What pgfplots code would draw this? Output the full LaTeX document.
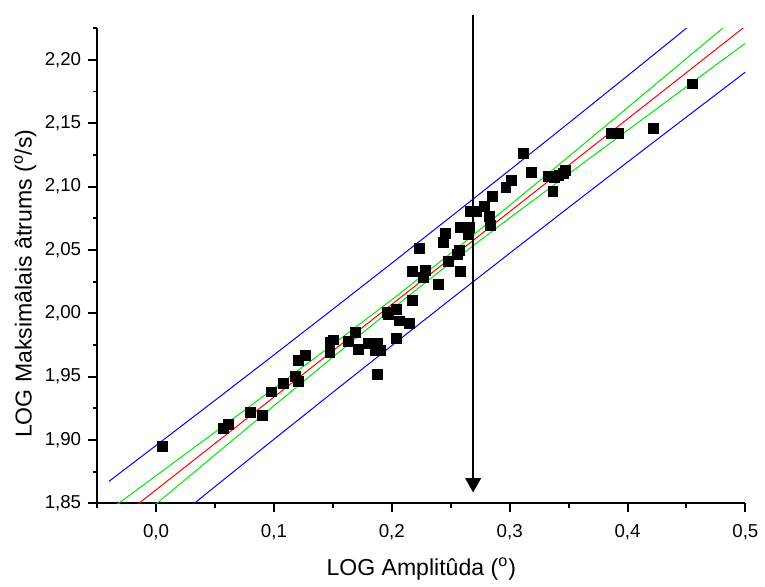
\documentclass[border=0pt]{standalone}
\usepackage{fontspec}
\setmainfont{Liberation Sans}
\usepackage{pgfplots}
\pgfplotsset{compat=1.18}
\usetikzlibrary{arrows.meta}
\definecolor{fitblue}{RGB}{0,0,255}
\definecolor{fitred}{RGB}{255,0,0}
\definecolor{fitgreen}{RGB}{0,230,0}
\begin{document}
\begin{tikzpicture}
\begin{axis}[
  scale only axis,
  width=326pt, height=239pt,
  xmin=-0.05, xmax=0.5, ymin=1.85, ymax=2.225,
  axis x line*=bottom, axis y line*=left,
  axis line style={-, line width=1pt},
  tick align=outside,
  major tick length=4.5pt, minor tick length=2.2pt,
  tick style={black, line width=1pt},
  xtick={0,0.1,0.2,0.3,0.4,0.5},
  xticklabels={{0,0},{0,1},{0,2},{0,3},{0,4},{0,5}},
  minor xtick={-0.05,0.05,0.15,0.25,0.35,0.45},
  ytick={1.85,1.90,1.95,2.00,2.05,2.10,2.15,2.20},
  yticklabels={{1,85},{1,90},{1,95},{2,00},{2,05},{2,10},{2,15},{2,20}},
  minor ytick={1.875,1.925,1.975,2.025,2.075,2.125,2.175,2.225},
  tick label style={font=\fontsize{9.4}{11}\selectfont},
  xticklabel style={yshift=-2.5pt},
  label style={font=\fontsize{11.6}{13}\selectfont},
  xlabel={LOG Amplitûda (\textsuperscript{o})},
  ylabel={LOG Maksimâlais âtrums (\textsuperscript{o}/s)},
  xlabel style={anchor=base, at={(axis description cs:0.5,-0.1513)}},
  ylabel style={anchor=base, at={(axis description cs:-0.1012,0.4623)}},
]
% prediction bands (blue)
\addplot[fitblue, line width=0.5pt] coordinates {
(-0.04,1.86738) (0,1.89572) (0.05,1.93132) (0.1,1.96715) (0.15,2.00323) (0.2,2.03955)
(0.25,2.07613) (0.3,2.11297) (0.35,2.15005) (0.4,2.18738) (0.45,2.22494) (0.5,2.2627)};
\addplot[fitblue, line width=0.5pt] coordinates {
(-0.04,1.7955) (0,1.82568) (0.05,1.86324) (0.1,1.90057) (0.15,1.93765) (0.2,1.97449)
(0.25,2.01107) (0.3,2.04739) (0.35,2.08347) (0.4,2.1193) (0.45,2.1549) (0.5,2.1903)};
% confidence bands (green)
\addplot[fitgreen, line width=0.5pt] coordinates {
(-0.04,1.84441) (0,1.87186) (0.05,1.90624) (0.1,1.94071) (0.15,1.97541) (0.2,2.01071)
(0.25,2.04729) (0.3,2.08515) (0.35,2.12361) (0.4,2.16230) (0.45,2.20108) (0.5,2.23992)};
\addplot[fitgreen, line width=0.5pt] coordinates {
(-0.04,1.81847) (0,1.84954) (0.05,1.88832) (0.1,1.92701) (0.15,1.96547) (0.2,2.00333)
(0.25,2.03991) (0.3,2.07521) (0.35,2.10991) (0.4,2.14438) (0.45,2.17876) (0.5,2.21308)};
% linear fit (red)
\addplot[fitred, line width=0.5pt] coordinates {(-0.04,1.83144) (0.5,2.2265)};
% data
\addplot[only marks, mark=square*, mark size=2.5pt, mark options={black, fill=black}] table {
x y
0.005 1.895
0.057 1.909
0.061 1.912
0.080 1.922
0.090 1.9195
0.0976 1.938
0.108 1.945
0.118 1.9505
0.121 1.946
0.121 1.963
0.127 1.967
0.1475 1.977
0.1505 1.979
0.1475 1.969
0.163 1.978
0.169 1.985
0.172 1.9715
0.180 1.976
0.188 1.976
0.1857 1.971
0.190 1.9707
0.188 1.952
0.196 2.001
0.197 1.999
0.204 2.003
0.2067 1.994
0.2152 1.992
0.204 1.980
0.2177 2.010
0.2177 2.033
0.2284 2.0335
0.2267 2.0285
0.2394 2.023
0.2234 2.051
0.2436 2.0558
0.2458 2.0634
0.2481 2.041
0.2557 2.0463
0.257 2.050
0.2584 2.0327
0.2584 2.0675
0.263 2.0675
0.266 2.0675
0.2646 2.062
0.267 2.0805
0.2715 2.0805
0.2785 2.0844
0.2827 2.0765
0.2833 2.0695
0.2855 2.0923
0.2968 2.0996
0.3015 2.1049
0.3117 2.1258
0.3184 2.1112
0.3325 2.108
0.3376 2.1073
0.3367 2.0962
0.3418 2.1088
0.3454 2.1106
0.3474 2.1128
0.3865 2.1416
0.392 2.1416
0.4221 2.1458
0.4549 2.181
};
\coordinate (ArrTop) at (axis cs:0.269,2.2354);
\coordinate (ArrTip) at (axis cs:0.269,1.8586);
\coordinate (BL) at (axis cs:-0.1324,1.7896);
\coordinate (TR) at (axis cs:0.5126,2.2472);
\end{axis}
\draw[line width=1.1pt, -{Triangle[width=7.8pt,length=7.2pt]}] (ArrTop) -- (ArrTip);
\path (BL) rectangle (TR);
\end{tikzpicture}
\end{document}
